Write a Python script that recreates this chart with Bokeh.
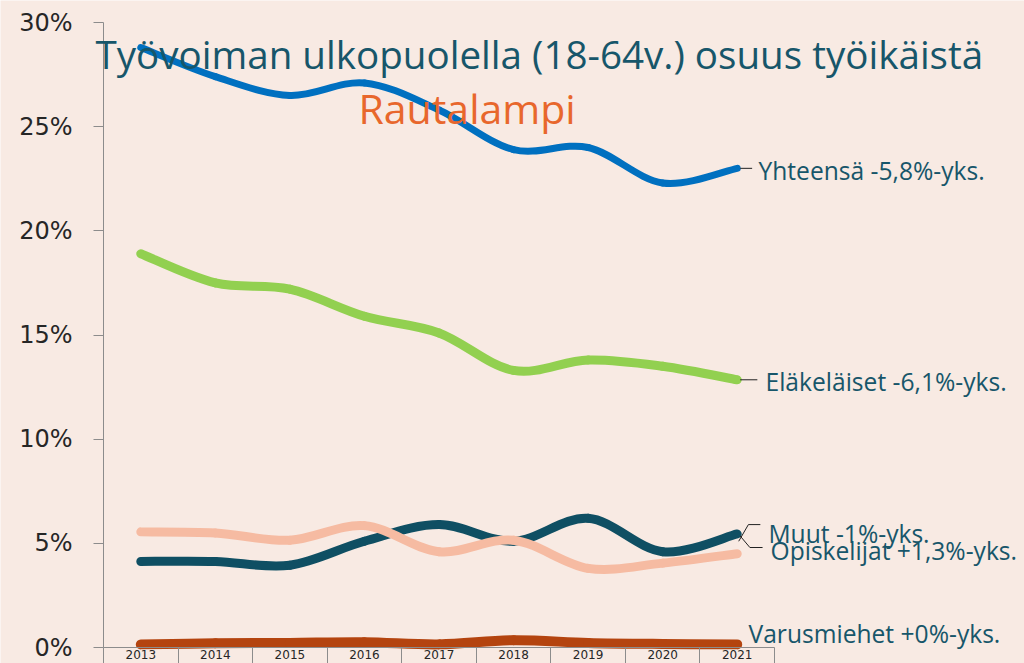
from bokeh.plotting import figure
from bokeh.models import Range1d, FixedTicker, Label, PrintfTickFormatter, ColumnDataSource
from bokeh.embed import file_html
from bokeh.resources import INLINE

# ---------------- data ----------------
years = [2013, 2014, 2015, 2016, 2017, 2018, 2019, 2020, 2021]
yhteensa = [28.8, 27.4, 26.5, 27.1, 25.8, 23.9, 24.0, 22.3, 23.0]
elakelaiset = [18.9, 17.5, 17.2, 15.9, 15.1, 13.3, 13.8, 13.5, 12.85]
muut = [4.13, 4.13, 3.95, 5.1, 5.9, 5.1, 6.2, 4.6, 5.45]
opiskelijat = [5.55, 5.5, 5.15, 5.85, 4.6, 5.15, 3.8, 4.05, 4.5]
varusmiehet = [0.15, 0.2, 0.22, 0.25, 0.15, 0.35, 0.22, 0.17, 0.15]
series_names = ["Yhteensä -5,8%-yks.", "Eläkeläiset -6,1%-yks.", "Muut -1%-yks.",
                "Opiskelijat +1,3%-yks.", "Varusmiehet +0%-yks."]
y_ticks = [0, 5, 10, 15, 20, 25, 30]
title1 = "Työvoiman ulkopuolella  (18-64v.) osuus työikäistä"
title2 = "Rautalampi"

# ---------------- style / layout ----------------
W, H = 1024, 663
BG = "#F8EAE3"
TEAL_TXT = "#17566A"
AXIS_C = "#8C8C8C"
colors = ["#0070C0", "#92D050", "#0F4F63", "#F6BBA2", "#B4440F"]
widths = [7, 9, 9, 9, 10]

n = len(years)
xs = list(range(n))
# plot area in pixels: categories span 103..774, 0%..30% spans 647..22
PX_L, PX_R, PY_0, PY_30 = 103, 774, 647, 22
ppx = (PX_R - PX_L) / n
ppy = (PY_0 - PY_30) / 30.0
x_start = -0.5 - PX_L / ppx
x_end = -0.5 + (W - PX_L) / ppx
y_start = -(H - PY_0) / ppy
y_end = 30 + PY_30 / ppy


def dx(px):
    return -0.5 + (px - PX_L) / ppx


def dy(py):
    return (PY_0 - py) / ppy


p = figure(width=W, height=H, output_backend="svg", toolbar_location=None,
           x_range=Range1d(x_start, x_end), y_range=Range1d(y_start, y_end),
           min_border_left=0, min_border_right=0, min_border_top=0, min_border_bottom=0)
p.title.visible = False
p.background_fill_color = BG
p.border_fill_color = BG
p.outline_line_color = None
p.xgrid.visible = False
p.ygrid.visible = False

# y axis
ya = p.yaxis[0]
ya.fixed_location = -0.5
ya.bounds = (0, 30)
ya.ticker = FixedTicker(ticks=y_ticks, minor_ticks=[])
ya.formatter = PrintfTickFormatter(format="%d%%")
ya.major_tick_out = 10
ya.major_tick_in = 0
ya.minor_tick_out = 0
ya.minor_tick_in = 0
ya.axis_line_color = AXIS_C
ya.major_tick_line_color = AXIS_C
ya.major_label_text_font = "DejaVu Sans"
ya.major_label_text_font_size = "24px"
ya.major_label_text_color = "#262626"
ya.major_label_standoff = 21

# x axis: boundary ticks only
xa = p.xaxis[0]
xa.fixed_location = 0
xa.bounds = (-0.5, n - 0.5)
bounds = [i - 0.5 for i in range(n + 1)]
xa.ticker = FixedTicker(ticks=bounds, minor_ticks=[])
xa.major_label_overrides = {b: "" for b in bounds}
xa.major_label_text_font_size = "1px"
xa.major_label_standoff = 0
xa.major_tick_out = 16
xa.major_tick_in = 0
xa.axis_line_color = AXIS_C
xa.major_tick_line_color = AXIS_C


def bezier_parts(xv, yv):
    m = len(xv)
    out = dict(x0=[], y0=[], x1=[], y1=[], cx0=[], cy0=[], cx1=[], cy1=[])
    for i in range(m - 1):
        i0 = max(i - 1, 0)
        i3 = min(i + 2, m - 1)
        out["x0"].append(xv[i]); out["y0"].append(yv[i])
        out["x1"].append(xv[i + 1]); out["y1"].append(yv[i + 1])
        out["cx0"].append(xv[i] + (xv[i + 1] - xv[i0]) / 6)
        out["cy0"].append(yv[i] + (yv[i + 1] - yv[i0]) / 6)
        out["cx1"].append(xv[i + 1] - (xv[i3] - xv[i]) / 6)
        out["cy1"].append(yv[i + 1] - (yv[i3] - yv[i]) / 6)
    return out


all_series = [yhteensa, elakelaiset, muut, opiskelijat, varusmiehet]
for vals, c, w in zip(all_series, colors, widths):
    src = ColumnDataSource(bezier_parts(xs, vals))
    p.bezier(x0="x0", y0="y0", x1="x1", y1="y1", cx0="cx0", cy0="cy0",
             cx1="cx1", cy1="cy1", source=src, line_color=c, line_width=w,
             line_cap="round")

# leader lines
last = xs[-1]
LC = "#222222"
p.line([last + 0.04, last + 0.2], [yhteensa[-1]] * 2, line_color=LC, line_width=1)
p.line([last + 0.04, last + 0.27], [elakelaiset[-1]] * 2, line_color=LC, line_width=1)
p.line([last + 0.02, last + 0.15, last + 0.31],
       [muut[-1] - 0.35, muut[-1] + 0.45, muut[-1] + 0.45], line_color=LC, line_width=1)
p.line([last + 0.04, last + 0.17, last + 0.34],
       [opiskelijat[-1] + 0.85, opiskelijat[-1] + 0.3, opiskelijat[-1] + 0.3], line_color=LC, line_width=1)

# series labels
lab_x = [dx(758), dx(765), dx(768), dx(770), dx(748)]
lab_y = [dy(170), dy(381), dy(533), dy(550), dy(633)]
for name, lx, ly in zip(series_names, lab_x, lab_y):
    p.add_layout(Label(x=lx, y=ly, text=name, text_font="Open Sans", text_font_size="24.6px",
                       text_color=TEAL_TXT, text_baseline="middle", text_align="left"))

# year labels
for i, yr in enumerate(years):
    p.add_layout(Label(x=i, y=dy(649), text=str(yr), text_font="DejaVu Sans",
                       text_font_size="12px", text_color="#262626",
                       text_align="center", text_baseline="top"))

# titles
p.add_layout(Label(x=dx(95), y=dy(53), text=title1, text_font="Open Sans", text_font_size="38.6px",
                   text_color=TEAL_TXT, text_baseline="alphabetic"))
p.add_layout(Label(x=dx(358), y=dy(107), text=title2, text_font="Open Sans", text_font_size="41px",
                   text_color="#E8672C", text_baseline="alphabetic"))

open("out.html", "w").write(file_html(p, INLINE))
